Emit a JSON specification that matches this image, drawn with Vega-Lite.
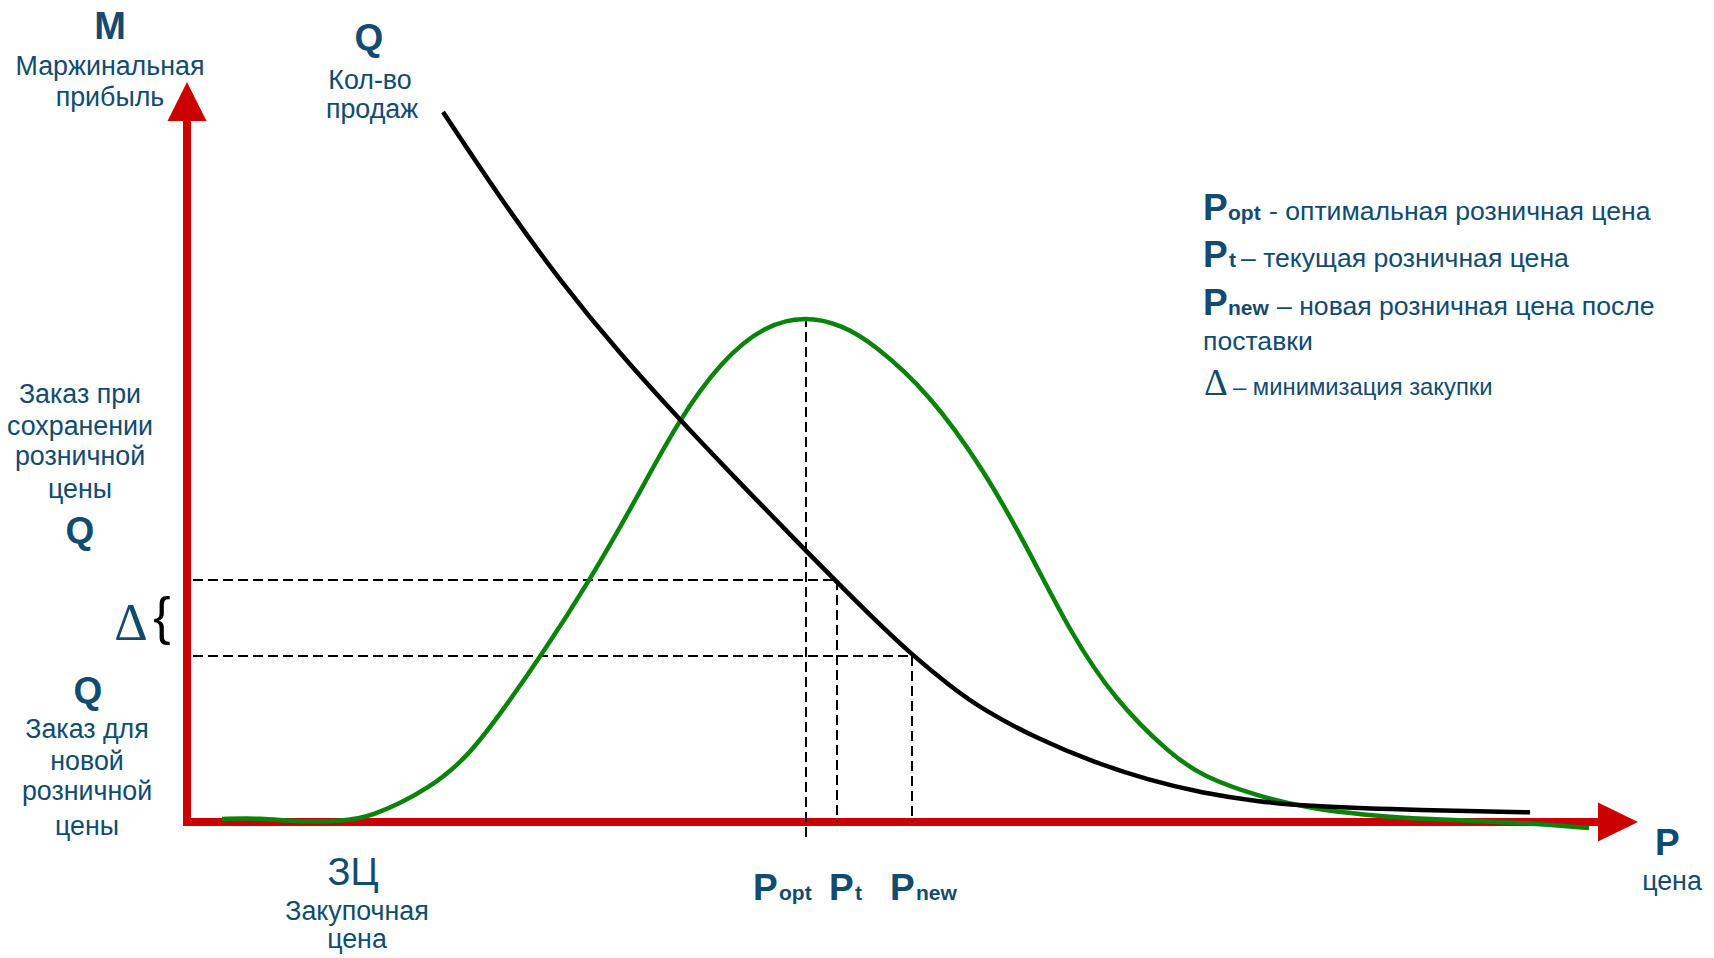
{
  "$schema": "https://vega.github.io/schema/vega-lite/v6.json",
  "width": 1714,
  "height": 958,
  "padding": 0,
  "autosize": {"type": "fit", "contains": "padding"},
  "background": "white",
  "config": {"view": {"stroke": null}},
  "datasets": {
    "axes": [
      {"P": 0, "V": -4, "P2": 0, "V2": 706},
      {"P": -4, "V": 0, "P2": 1415, "V2": 0}
    ],
    "arrowUp": [{"P": 0, "V": 720.5}],
    "arrowRight": [{"P": 1431, "V": 0}],
    "dashed": [
      {"P": 6, "V": 242, "P2": 649, "V2": 242},
      {"P": 6, "V": 166, "P2": 725, "V2": 166},
      {"P": 619, "V": 505, "P2": 619, "V2": -15},
      {"P": 650, "V": 242, "P2": 650, "V2": 0},
      {"P": 725, "V": 166, "P2": 725, "V2": 0}
    ],
    "margin": [
      {"P": 35, "V": 3}, {"P": 73, "V": 4}, {"P": 113, "V": 0}, {"P": 153, "V": 1},
      {"P": 183, "V": 4}, {"P": 246, "V": 35}, {"P": 283, "V": 68}, {"P": 316, "V": 112},
      {"P": 354, "V": 166}, {"P": 403, "V": 242}, {"P": 447, "V": 319}, {"P": 491, "V": 401},
      {"P": 534, "V": 461}, {"P": 578, "V": 497}, {"P": 619, "V": 506}, {"P": 655, "V": 497},
      {"P": 687, "V": 478}, {"P": 742, "V": 429}, {"P": 797, "V": 352}, {"P": 840, "V": 275},
      {"P": 884, "V": 188}, {"P": 928, "V": 122}, {"P": 983, "V": 68}, {"P": 1015, "V": 46},
      {"P": 1070, "V": 26}, {"P": 1125, "V": 13}, {"P": 1179, "V": 7}, {"P": 1234, "V": 3},
      {"P": 1343, "V": -1}, {"P": 1402, "V": -6}
    ],
    "sales": [
      {"P": 256, "V": 710}, {"P": 313, "V": 624}, {"P": 373, "V": 541}, {"P": 433, "V": 468},
      {"P": 493, "V": 402}, {"P": 553, "V": 339}, {"P": 619, "V": 271}, {"P": 649, "V": 241},
      {"P": 687, "V": 203}, {"P": 725, "V": 167}, {"P": 763, "V": 136}, {"P": 797, "V": 111.5},
      {"P": 851, "V": 83}, {"P": 906, "V": 60}, {"P": 961, "V": 42}, {"P": 1015, "V": 29},
      {"P": 1070, "V": 20.5}, {"P": 1125, "V": 15.5}, {"P": 1234, "V": 11.7}, {"P": 1343, "V": 9.7}
    ],
    "tM": [{"P": -77, "V": 783, "t": "M"}],
    "tQ": [
      {"P": 182, "V": 772, "t": "Q"},
      {"P": -107, "V": 279, "t": "Q"},
      {"P": -99, "V": 119, "t": "Q"}
    ],
    "tP": [
      {"P": 1016, "V": 602, "t": "P"},
      {"P": 1016, "V": 555, "t": "P"},
      {"P": 1016, "V": 507, "t": "P"},
      {"P": 566, "V": -78, "t": "P"},
      {"P": 642, "V": -78, "t": "P"},
      {"P": 703, "V": -78, "t": "P"},
      {"P": 1468, "V": -33, "t": "P"}
    ],
    "tSub": [
      {"P": 1041, "V": 602, "t": "opt"},
      {"P": 1042, "V": 555, "t": "t"},
      {"P": 1041, "V": 507, "t": "new"},
      {"P": 592, "V": -78, "t": "opt"},
      {"P": 668, "V": -78, "t": "t"},
      {"P": 729, "V": -78, "t": "new"}
    ],
    "tLab": [
      {"P": -77, "V": 747, "t": "Маржинальная"},
      {"P": -77, "V": 716, "t": "прибыль"},
      {"P": 183, "V": 733, "t": "Кол-во"},
      {"P": 185, "V": 704, "t": "продаж"},
      {"P": -107, "V": 419, "t": "Заказ при"},
      {"P": -107, "V": 387, "t": "сохранении"},
      {"P": -107, "V": 357, "t": "розничной"},
      {"P": -107, "V": 324, "t": "цены"},
      {"P": -100, "V": 84, "t": "Заказ для"},
      {"P": -100, "V": 52, "t": "новой"},
      {"P": -100, "V": 22, "t": "розничной"},
      {"P": -100, "V": -13, "t": "цены"},
      {"P": 170, "V": -98, "t": "Закупочная"},
      {"P": 170, "V": -126, "t": "цена"},
      {"P": 1485, "V": -68, "t": "цена"}
    ],
    "tLeg": [
      {"P": 1082, "V": 602, "t": "- оптимальная розничная цена"},
      {"P": 1054, "V": 555, "t": "– текущая розничная цена"},
      {"P": 1090, "V": 507, "t": "– новая розничная цена после"},
      {"P": 1016, "V": 472, "t": "поставки"}
    ],
    "tLeg5": [{"P": 1046, "V": 427, "t": "– минимизация закупки"}],
    "tDeltaLeg": [{"P": 1017, "V": 427, "t": "Δ"}],
    "tDeltaLeft": [{"P": -56, "V": 182, "t": "Δ"}],
    "tBrace": [{"P": -25, "V": 188, "t": "{"}],
    "tZC": [{"P": 166, "V": -63, "t": "ЗЦ"}]
  },
  "encoding": {
    "x": {"field": "P", "type": "quantitative", "scale": {"domain": [-187, 1527], "nice": false, "zero": false}, "axis": null},
    "y": {"field": "V", "type": "quantitative", "scale": {"domain": [-136, 822], "nice": false, "zero": false}, "axis": null}
  },
  "layer": [
    {
      "data": {"name": "axes"},
      "mark": {"type": "rule", "color": "#cc0000", "strokeWidth": 8},
      "encoding": {"x2": {"field": "P2"}, "y2": {"field": "V2"}}
    },
    {
      "data": {"name": "arrowUp"},
      "mark": {"type": "point", "shape": "M0,-1L1,1L-1,1Z", "size": 1521, "filled": true, "color": "#cc0000", "opacity": 1, "strokeWidth": 0}
    },
    {
      "data": {"name": "arrowRight"},
      "mark": {"type": "point", "shape": "M1,0L-1,-0.975L-1,0.975Z", "size": 1600, "filled": true, "color": "#cc0000", "opacity": 1, "strokeWidth": 0}
    },
    {
      "data": {"name": "dashed"},
      "mark": {"type": "rule", "color": "black", "strokeWidth": 2, "strokeDash": [10, 5]},
      "encoding": {"x2": {"field": "P2"}, "y2": {"field": "V2"}}
    },
    {
      "data": {"name": "margin"},
      "mark": {"type": "line", "color": "#0a830a", "strokeWidth": 4.5, "interpolate": "basis"}
    },
    {
      "data": {"name": "sales"},
      "mark": {"type": "line", "color": "black", "strokeWidth": 4.5, "interpolate": "basis"}
    },
    {
      "data": {"name": "tM"},
      "mark": {"type": "text", "font": "Liberation Sans", "fontSize": 38, "fontWeight": "bold", "color": "#114b70", "align": "center", "baseline": "alphabetic"},
      "encoding": {"text": {"field": "t"}}
    },
    {
      "data": {"name": "tQ"},
      "mark": {"type": "text", "font": "Liberation Sans", "fontSize": 37, "fontWeight": "bold", "color": "#114b70", "align": "center", "baseline": "alphabetic"},
      "encoding": {"text": {"field": "t"}}
    },
    {
      "data": {"name": "tP"},
      "mark": {"type": "text", "font": "Liberation Sans", "fontSize": 37, "fontWeight": "bold", "color": "#114b70", "align": "left", "baseline": "alphabetic"},
      "encoding": {"text": {"field": "t"}}
    },
    {
      "data": {"name": "tSub"},
      "mark": {"type": "text", "font": "Liberation Sans", "fontSize": 21, "fontWeight": "bold", "color": "#114b70", "align": "left", "baseline": "alphabetic"},
      "encoding": {"text": {"field": "t"}}
    },
    {
      "data": {"name": "tLab"},
      "mark": {"type": "text", "font": "Liberation Sans", "fontSize": 26.8, "color": "#114b70", "align": "center", "baseline": "alphabetic"},
      "encoding": {"text": {"field": "t"}}
    },
    {
      "data": {"name": "tLeg"},
      "mark": {"type": "text", "font": "Liberation Sans", "fontSize": 26.6, "color": "#114b70", "align": "left", "baseline": "alphabetic"},
      "encoding": {"text": {"field": "t"}}
    },
    {
      "data": {"name": "tLeg5"},
      "mark": {"type": "text", "font": "Liberation Sans", "fontSize": 23.8, "color": "#114b70", "align": "left", "baseline": "alphabetic"},
      "encoding": {"text": {"field": "t"}}
    },
    {
      "data": {"name": "tDeltaLeg"},
      "mark": {"type": "text", "font": "Liberation Serif", "fontSize": 37, "color": "#114b70", "align": "left", "baseline": "alphabetic"},
      "encoding": {"text": {"field": "t"}}
    },
    {
      "data": {"name": "tDeltaLeft"},
      "mark": {"type": "text", "font": "Liberation Serif", "fontSize": 52, "color": "#114b70", "align": "center", "baseline": "alphabetic"},
      "encoding": {"text": {"field": "t"}}
    },
    {
      "data": {"name": "tBrace"},
      "mark": {"type": "text", "font": "Liberation Sans", "fontSize": 52, "color": "black", "align": "center", "baseline": "alphabetic"},
      "encoding": {"text": {"field": "t"}}
    },
    {
      "data": {"name": "tZC"},
      "mark": {"type": "text", "font": "Liberation Sans", "fontSize": 38, "color": "#114b70", "align": "center", "baseline": "alphabetic"},
      "encoding": {"text": {"field": "t"}}
    }
  ]
}
